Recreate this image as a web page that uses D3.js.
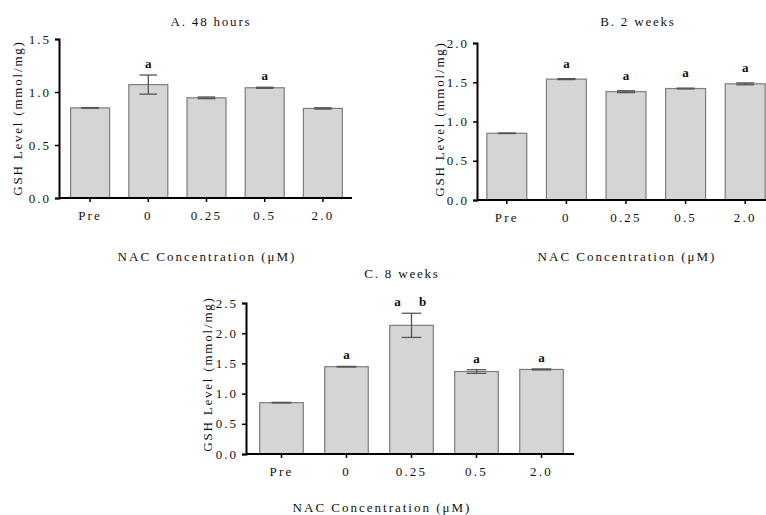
<!DOCTYPE html>
<html>
<head>
<meta charset="utf-8">
<script src="https://cdn.jsdelivr.net/npm/d3@7"></script>
<style>
  html, body { margin: 0; padding: 0; background: #fff; }
  svg { display: block; }
</style>
</head>
<body>
<svg id="chart" width="766" height="515"></svg>
<script>
// ---- data ----
const categories = ["Pre", "0", "0.25", "0.5", "2.0"];

const meansA = [0.85, 1.07, 0.945, 1.04, 0.845];
const errorsA = [0.003, 0.09, 0.008, 0.005, 0.006];
const lettersA = ["", "a", "", "a", ""];
const yTicksA = [0.0, 0.5, 1.0, 1.5];

const meansB = [0.85, 1.54, 1.38, 1.42, 1.48];
const errorsB = [0.003, 0.006, 0.012, 0.005, 0.012];
const lettersB = ["", "a", "a", "a", "a"];
const yTicksB = [0.0, 0.5, 1.0, 1.5, 2.0];

const meansC = [0.85, 1.445, 2.13, 1.365, 1.40];
const errorsC = [0.005, 0.005, 0.2, 0.03, 0.008];
const lettersC = ["", "a", "a b", "a", "a"];
const yTicksC = [0.0, 0.5, 1.0, 1.5, 2.0, 2.5];

const titles = ["A. 48 hours", "B. 2 weeks", "C. 8 weeks"];
const xTitle = "NAC Concentration (\u03bcM)";
const yTitle = "GSH Level (mmol/mg)";

// ---- layout ----
const FONT = "'Liberation Serif', 'Times New Roman', serif";
const panels = [
  { means: meansA, errors: errorsA, letters: lettersA, ticks: yTicksA, title: titles[0],
    axisX: 59, bandStart: 61, bandEnd: 352, yBottom: 198, yTop: 39,
    titleX: 211, titleY: 26, xLabX: 207, xLabY: 261, yLabX: 22, yLabY: 118, letterGap: 7 },
  { means: meansB, errors: errorsB, letters: lettersB, ticks: yTicksB, title: titles[1],
    axisX: 477, bandStart: 477, bandEnd: 775, yBottom: 200, yTop: 43,
    titleX: 638, titleY: 26, xLabX: 627, xLabY: 261, yLabX: 444, yLabY: 119, letterGap: 11 },
  { means: meansC, errors: errorsC, letters: lettersC, ticks: yTicksC, title: titles[2],
    axisX: 246, bandStart: 249, bandEnd: 574, yBottom: 454, yTop: 303,
    titleX: 402, titleY: 278, xLabX: 382, xLabY: 512, yLabX: 212, yLabY: 374, letterGap: 7 }
];

const svg = d3.select("#chart").attr("font-family", FONT);

panels.forEach(p => {
  const g = svg.append("g");
  const yMax = p.ticks[p.ticks.length - 1];
  const y = d3.scaleLinear().domain([0, yMax]).range([p.yBottom, p.yTop]);
  const x = d3.scaleBand().domain(categories).range([p.bandStart, p.bandEnd])
    .paddingInner(0.33).paddingOuter(0.165);
  const cxOf = i => x(categories[i]) + x.bandwidth() / 2;

  // bars
  g.selectAll("rect.bar").data(p.means).join("rect")
    .attr("class", "bar")
    .attr("x", (d, i) => x(categories[i]))
    .attr("y", d => y(d))
    .attr("width", x.bandwidth())
    .attr("height", d => p.yBottom - y(d))
    .attr("fill", "#d5d5d5")
    .attr("stroke", "#7d7d7d")
    .attr("stroke-width", 1.2);

  // error bars
  const capW = x.bandwidth() * 0.45;
  const eg = g.selectAll("g.err").data(p.means).join("g").attr("class", "err");
  eg.append("line")
    .attr("x1", (d, i) => cxOf(i)).attr("x2", (d, i) => cxOf(i))
    .attr("y1", (d, i) => y(d + p.errors[i]))
    .attr("y2", (d, i) => y(d - p.errors[i]));
  eg.append("line")
    .attr("x1", (d, i) => cxOf(i) - capW / 2).attr("x2", (d, i) => cxOf(i) + capW / 2)
    .attr("y1", (d, i) => y(d + p.errors[i])).attr("y2", (d, i) => y(d + p.errors[i]));
  eg.append("line")
    .attr("x1", (d, i) => cxOf(i) - capW / 2).attr("x2", (d, i) => cxOf(i) + capW / 2)
    .attr("y1", (d, i) => y(d - p.errors[i])).attr("y2", (d, i) => y(d - p.errors[i]));
  eg.selectAll("line").attr("stroke", "#555").attr("stroke-width", 1.3);

  // significance letters
  p.letters.forEach((L, i) => {
    if (!L) return;
    const parts = L.split(" ");
    const ty = y(p.means[i] + p.errors[i]) - p.letterGap;
    const offs = parts.length === 2 ? [-14, 11] : [0];
    parts.forEach((t, k) => {
      g.append("text")
        .attr("x", cxOf(i) + offs[k]).attr("y", ty)
        .attr("text-anchor", "middle")
        .attr("font-family", FONT).attr("font-size", 13).attr("font-weight", "bold")
        .attr("fill", "#111")
        .text(t);
    });
  });

  // y axis
  const yAxis = d3.axisLeft(y).tickValues(p.ticks).tickFormat(d3.format(".1f"))
    .tickSizeOuter(0).tickSize(4).tickPadding(4);
  const ya = g.append("g").attr("transform", `translate(${p.axisX},0)`).call(yAxis)
    .attr("font-family", FONT).attr("font-size", 13);
  ya.select(".domain").attr("stroke", "#000").attr("stroke-width", 2);
  ya.selectAll(".tick line").attr("stroke", "#000").attr("stroke-width", 1.5);
  ya.selectAll(".tick text").attr("font-family", FONT).attr("font-size", 13)
    .attr("letter-spacing", 2).attr("fill", "#111");

  // x axis
  const xAxis = d3.axisBottom(x).tickSizeOuter(0).tickSize(4).tickPadding(9);
  const xa = g.append("g").attr("transform", `translate(0,${p.yBottom})`).call(xAxis)
    .attr("font-family", FONT).attr("font-size", 13);
  xa.select(".domain").attr("d", `M${p.axisX},0H${p.bandEnd}`)
    .attr("stroke", "#000").attr("stroke-width", 2);
  xa.selectAll(".tick line").attr("stroke", "#000").attr("stroke-width", 1.5);
  xa.selectAll(".tick text").attr("font-family", FONT).attr("font-size", 13)
    .attr("letter-spacing", 2.2).attr("fill", "#111");

  // titles
  g.append("text").attr("x", p.titleX).attr("y", p.titleY)
    .attr("text-anchor", "middle").attr("font-family", FONT).attr("font-size", 13)
    .attr("letter-spacing", 1.8).attr("fill", "#111")
    .text(p.title);
  g.append("text").attr("x", p.xLabX).attr("y", p.xLabY)
    .attr("text-anchor", "middle").attr("font-family", FONT).attr("font-size", 13)
    .attr("letter-spacing", 2).attr("fill", "#111")
    .text(xTitle);
  g.append("text")
    .attr("transform", `translate(${p.yLabX},${p.yLabY}) rotate(-90)`)
    .attr("text-anchor", "middle").attr("font-family", FONT).attr("font-size", 13)
    .attr("letter-spacing", 1.8).attr("fill", "#111")
    .text(yTitle);
});
</script>
</body>
</html>
